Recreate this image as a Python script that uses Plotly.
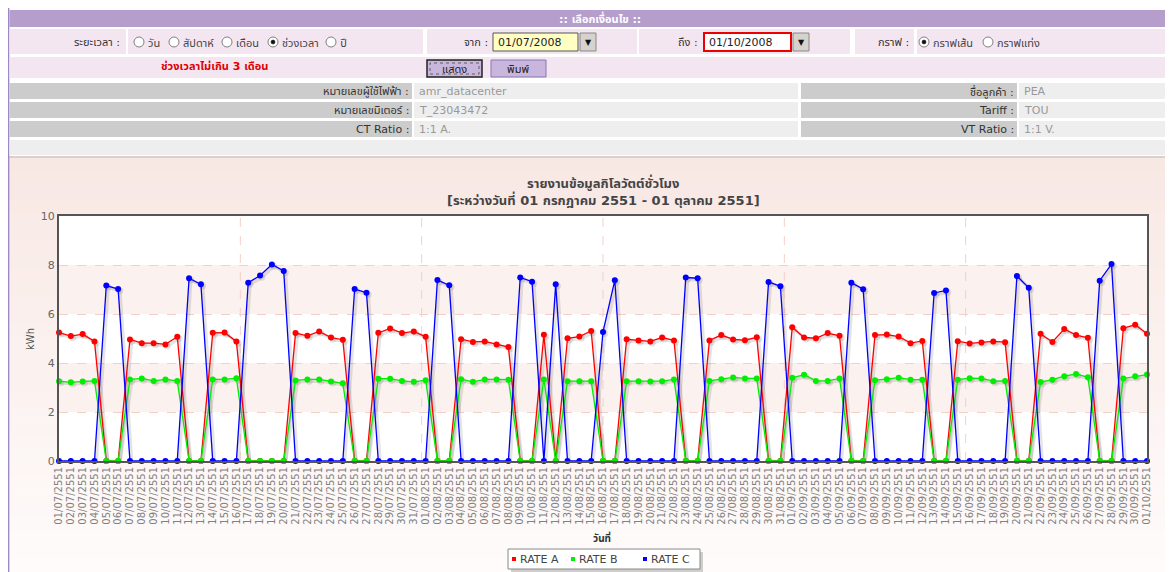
import plotly.graph_objects as go
import pandas as pd

# ---------------- data ----------------
dates = [d.strftime("%d/%m/") + str(d.year + 543) for d in pd.date_range("2008-07-01", "2008-10-01", freq="D")]

rate_a = [5.24, 5.10, 5.18, 4.88, 0, 0, 4.96, 4.81, 4.81, 4.76, 5.07, 0, 0, 5.23, 5.24, 4.88,
          0, 0, 0, 0, 5.22, 5.11, 5.29, 5.04, 4.95, 0, 0, 5.23, 5.41, 5.22, 5.29, 5.07,
          0, 0, 4.97, 4.86, 4.88, 4.76, 4.65, 0, 0, 5.15, 0, 5.01, 5.08, 5.31, 0, 0,
          4.97, 4.92, 4.88, 5.04, 4.92, 0, 0, 4.92, 5.14, 4.96, 4.93, 5.05, 0, 0,
          5.46, 5.04, 5.01, 5.22, 5.11, 0, 0, 5.14, 5.16, 5.08, 4.81, 4.90, 0, 0,
          4.89, 4.80, 4.84, 4.88, 4.85, 0, 0, 5.19, 4.86, 5.39, 5.14, 5.03, 0, 0,
          5.42, 5.56, 5.19]
rate_b = [3.26, 3.21, 3.25, 3.27, 0, 0, 3.33, 3.37, 3.27, 3.33, 3.27, 0, 0, 3.33, 3.33, 3.38,
          0, 0, 0, 0, 3.29, 3.33, 3.33, 3.25, 3.17, 0, 0, 3.36, 3.36, 3.27, 3.23, 3.30,
          0, 0, 3.34, 3.23, 3.33, 3.33, 3.32, 0, 0, 3.33, 0, 3.26, 3.26, 3.26, 0, 0,
          3.26, 3.26, 3.25, 3.26, 3.33, 0, 0, 3.27, 3.34, 3.41, 3.37, 3.37, 0, 0,
          3.40, 3.52, 3.27, 3.27, 3.37, 0, 0, 3.30, 3.34, 3.40, 3.32, 3.32, 0, 0,
          3.32, 3.38, 3.37, 3.26, 3.27, 0, 0, 3.22, 3.32, 3.46, 3.55, 3.42, 0, 0,
          3.37, 3.46, 3.53]
rate_c = [0, 0, 0, 0, 7.16, 7.02, 0, 0, 0, 0, 0, 7.46, 7.21, 0, 0, 0,
          7.28, 7.57, 8.02, 7.76, 0, 0, 0, 0, 0, 7.02, 6.87, 0, 0, 0, 0, 0,
          7.39, 7.17, 0, 0, 0, 0, 0, 7.49, 7.32, 0, 7.21, 0, 0, 0, 5.27, 7.38,
          0, 0, 0, 0, 0, 7.49, 7.46, 0, 0, 0, 0, 0, 7.31, 7.13,
          0, 0, 0, 0, 0, 7.28, 7.01, 0, 0, 0, 0, 0, 6.86, 6.96,
          0, 0, 0, 0, 0, 7.55, 7.07, 0, 0, 0, 0, 0, 7.36, 8.04,
          0, 0, 0]

series_names = ["RATE A", "RATE B", "RATE C"]
series_colors = ["#ff0000", "#00ee00", "#0000ff"]

title_1 = "รายงานข้อมูลกิโลวัตต์ชั่วโมง"
title_2 = "[ระหว่างวันที่ 01 กรกฎาคม 2551 - 01 ตุลาคม 2551]"

# ---------------- helpers ----------------
# The page body has an 8px margin, so the figure sits at (8, 8) in the window.
OX, OY = 8, 8
W, H = 1173, 572
FW, FH = W - OX, H - OY
FONT = "Tahoma, Verdana, 'DejaVu Sans', 'Noto Sans Thai', Loma, Garuda, sans-serif"
VFONT = "Verdana, 'DejaVu Sans', sans-serif"


def px(x):
    return (x - OX) / FW


def py(y):
    return 1 - (y - OY) / FH


shapes = []
annotations = []


def rect(x0, y0, x1, y1, fill, line=None, lw=0, dash=None, layer="above"):
    s = dict(type="rect", xref="paper", yref="paper", x0=px(x0), x1=px(x1), y0=py(y1), y1=py(y0),
             fillcolor=fill, line=dict(width=lw, color=line or "rgba(0,0,0,0)"), layer=layer)
    if dash:
        s["line"]["dash"] = dash
    shapes.append(s)


def circle(cx, cy, r, fill, line="#777", lw=1):
    shapes.append(dict(type="circle", xref="paper", yref="paper", x0=px(cx - r), x1=px(cx + r),
                       y0=py(cy + r), y1=py(cy - r), fillcolor=fill, line=dict(width=lw, color=line)))


def text(x, y, s, size=11, color="#333", anchor="left", bold=False, angle=0, family=FONT):
    if bold:
        s = "<b>" + s + "</b>"
    annotations.append(dict(x=px(x), y=py(y), xref="paper", yref="paper", text=s, showarrow=False,
                            xanchor=anchor, yanchor="middle", textangle=angle,
                            font=dict(size=size, color=color, family=family)))


def radio(cx, cy, label, checked=False):
    circle(cx, cy, 5, "white", "#808080", 1)
    if checked:
        circle(cx, cy, 2, "#111", "#111", 0.5)
    text(cx + 7, cy + 1, label, size=11, color="#444")


# ---------------- page background / form ----------------
top_c = (248, 232, 228)
bot_c = (254, 251, 250)
n = 30
y_top, y_bot = 158, 572
for i in range(n):
    t = i / (n - 1)
    c = tuple(int(round(top_c[k] + (bot_c[k] - top_c[k]) * t)) for k in range(3))
    y0 = y_top + (y_bot - y_top) * i / n
    y1 = y_top + (y_bot - y_top) * (i + 1) / n + 0.5
    rect(8, y0, W, y1, "rgb(%d,%d,%d)" % c, layer="below")
rect(8, 156, W, 158, "#d9cfcc", layer="below")

# plot area white
rect(59, 216, 1147, 461, "white", layer="below")

# left purple border line
shapes.append(dict(type="line", xref="paper", yref="paper", x0=px(8.6), x1=px(8.6), y0=py(572), y1=py(8),
                   line=dict(color="#9c88c4", width=1.5)))

# header bar
rect(9.5, 10, W, 27, "#b59dcc")
text(600, 19, ":: เลือกเงื่อนไข ::", size=11, color="white", anchor="center", bold=True)

PINK = "#f4e6f1"
rect(9.5, 29, 126, 54, PINK)
rect(128, 29, 423, 54, PINK)
rect(427, 29, 637, 54, PINK)
rect(639, 29, 850, 54, PINK)
rect(855, 29, 914, 54, PINK)
rect(917, 29, W, 54, PINK)
text(122, 42, "ระยะเวลา :", anchor="right")
radio(139, 42, "วัน")
radio(174, 42, "สัปดาห์")
radio(227, 42, "เดือน")
radio(273, 42, "ช่วงเวลา", checked=True)
radio(331, 42, "ปี")

text(490, 42, "จาก :", anchor="right")
rect(493, 33, 578, 51, "#ffffc4", "#555", 1)
text(496, 42, "01/07/2008", size=11, color="#222", family=VFONT)
rect(580, 33, 596, 51, "#d6d3ce", "#888", 1)
text(588, 42, "▼", size=8, color="#111", anchor="center", family="'DejaVu Sans', sans-serif")

text(700, 42, "ถึง :", anchor="right")
rect(704, 33, 791, 51, "white", "#ee0000", 2)
text(707, 42, "01/10/2008", size=11, color="#222", family=VFONT)
rect(793, 33, 809, 51, "#d6d3ce", "#888", 1)
text(801, 42, "▼", size=8, color="#111", anchor="center", family="'DejaVu Sans', sans-serif")

text(911, 42, "กราฟ :", anchor="right")
radio(924, 42, "กราฟเส้น", checked=True)
radio(988, 42, "กราฟแท่ง")

rect(9.5, 57, W, 78, PINK)
text(215, 67, "ช่วงเวลาไม่เกิน 3 เดือน", size=11, color="#e00000", anchor="center", bold=True)
rect(427, 60, 482, 77, "#c9b6dd", "#222", 1.5)
rect(430, 63, 479, 74, "rgba(0,0,0,0)", "#444", 0.8, dash="dot")
text(454, 69, "แสดง", size=11, color="#222", anchor="center")
rect(491, 60, 546, 77, "#c9b6dd", "#8d74b0", 1)
text(518, 69, "พิมพ์", size=11, color="#222", anchor="center")

LBL = "#cccccc"
VAL = "#eeeeee"
rows = [
    (83, 99, "หมายเลขผู้ใช้ไฟฟ้า :", "amr_datacenter", "ชื่อลูกค้า :", "PEA"),
    (102, 118, "หมายเลขมิเตอร์ :", "T_23043472", "Tariff :", "TOU"),
    (121, 137, "CT Ratio :", "1:1 A.", "VT Ratio :", "1:1 V."),
]
for y0, y1, l1, v1, l2, v2 in rows:
    ym = (y0 + y1) / 2 + 0.5
    rect(9.5, y0, 412, y1, LBL)
    rect(414, y0, 798, y1, VAL)
    rect(801, y0, 1017, y1, LBL)
    rect(1019, y0, W, y1, VAL)
    text(411, ym, l1, anchor="right", color="#333")
    text(417, ym, v1, color="#999")
    text(1016, ym, l2, anchor="right", color="#333")
    text(1022, ym, v2, color="#999")
rect(9.5, 140, W, 155, VAL)

# chart titles
text(603, 183, title_1, size=13, color="#444", anchor="center", bold=True)
text(603, 199, title_2, size=13, color="#444", anchor="center", bold=True)
text(30, 339, "kWh", size=10, color="#555", anchor="center", angle=-90)
text(602, 537, "วันที่", size=10, color="#333", anchor="center", bold=True)

# manual legend
rect(511, 552, 703, 572, "rgba(0,0,0,0.18)")
rect(508, 549, 700, 569, "white", "#888", 1)
for lx, name, col in zip([512, 571, 643], series_names, series_colors):
    rect(lx, 557, lx + 4, 561, col)
    text(lx + 6, 559.5, name, size=11, color="#444", family=VFONT)

# ---------------- plot-referenced decorations ----------------
nd = len(dates) - 1
for lo, hi in [(2, 4), (6, 8)]:
    shapes.append(dict(type="rect", xref="paper", yref="y", x0=px(59), x1=px(1147), y0=lo, y1=hi,
                       fillcolor="#fbf1ef", line=dict(width=0), layer="below"))
for k in range(1, 6):
    shapes.append(dict(type="line", xref="x", yref="y", x0=nd * k / 6, x1=nd * k / 6, y0=0, y1=10,
                       line=dict(color="#f4cfc8", width=1, dash="dash"), layer="below"))

# ---------------- traces ----------------
xs = list(range(len(dates)))
fig = go.Figure()
for vals in [rate_a, rate_b, rate_c]:
    fig.add_trace(go.Scatter(x=[v + 0.15 for v in xs], y=[v - 0.07 for v in vals], mode="lines+markers",
                             line=dict(color="rgba(0,0,0,0.10)", width=3.5),
                             marker=dict(size=7, color="rgba(0,0,0,0.10)"),
                             showlegend=False, hoverinfo="skip", cliponaxis=False))
for name, vals, col in zip(series_names, [rate_a, rate_b, rate_c], series_colors):
    fig.add_trace(go.Scatter(x=xs, y=vals, mode="lines+markers", name=name,
                             line=dict(color=col, width=1.3), marker=dict(size=6, color=col),
                             showlegend=False, cliponaxis=False))

fig.update_layout(
    width=FW, height=FH, autosize=False,
    margin=dict(l=0, r=0, t=0, b=0, autoexpand=False),
    paper_bgcolor="white", plot_bgcolor="rgba(0,0,0,0)",
    font=dict(family=FONT, size=11, color="#555"),
    shapes=shapes, annotations=annotations,
    showlegend=False,
    xaxis=dict(domain=[px(59), px(1147)], range=[0, nd], tickmode="array", tickvals=xs, ticktext=dates,
               tickangle=-90, tickfont=dict(size=10, color="#808080", family=VFONT),
               showgrid=False, zeroline=False, showline=True, linecolor="#555", linewidth=2, mirror=True,
               ticks="", fixedrange=True, automargin=False),
    yaxis=dict(domain=[py(461), py(216)], range=[0, 10], dtick=2,
               tickfont=dict(size=11, color="#666", family=VFONT),
               showgrid=True, gridcolor="#f4cfc8", griddash="dash", gridwidth=1,
               zeroline=False, showline=True, linecolor="#555", linewidth=2, mirror=True,
               ticks="", fixedrange=True, automargin=False),
)

fig.write_html("out.html")
